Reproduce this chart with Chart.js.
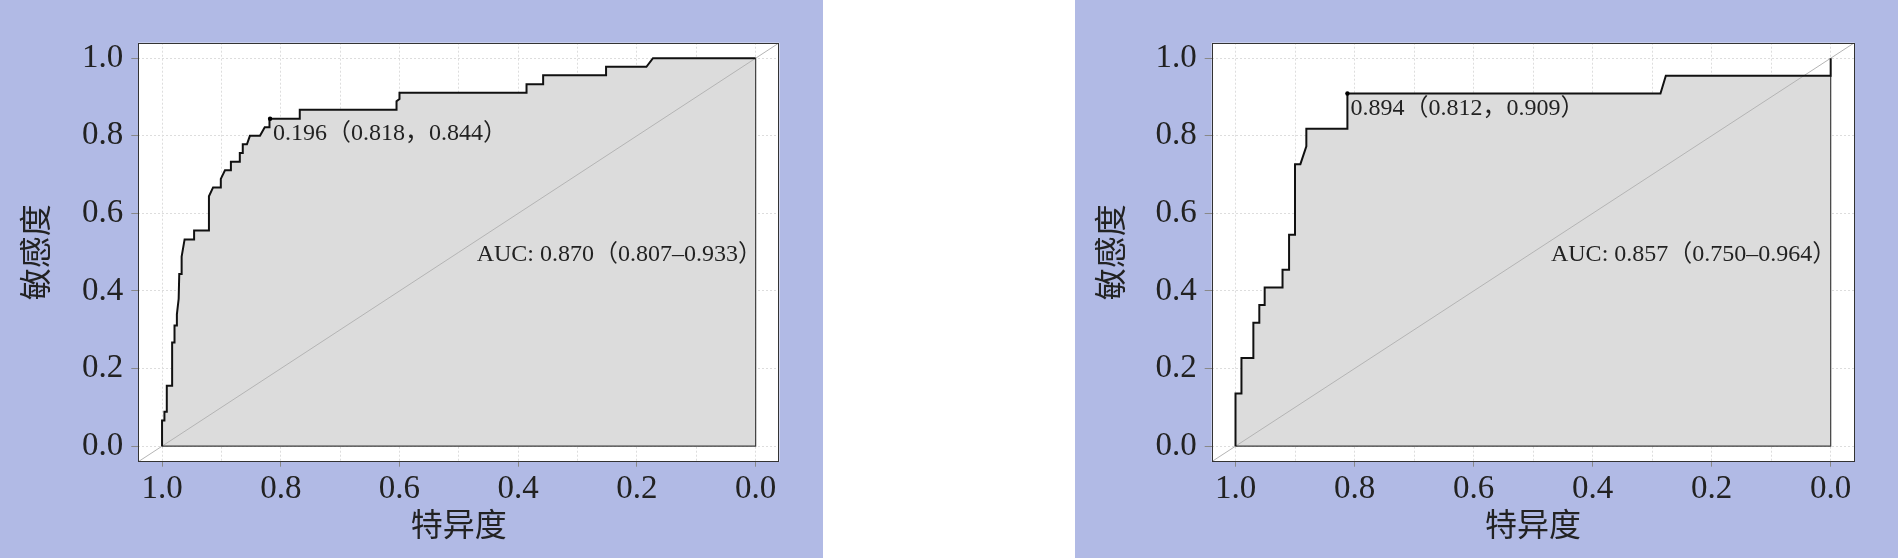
<!DOCTYPE html>
<html><head><meta charset="utf-8">
<script src="https://cdn.jsdelivr.net/npm/chart.js@4.4.0/dist/chart.umd.min.js"></script>
<style>
html,body{margin:0;padding:0;background:#fff;width:1898px;height:560px;overflow:hidden}
.panel{position:absolute;top:0;width:823px;height:558px;background:#b1bae5}
#p1{left:0}#p2{left:1075px}
canvas{display:block}
</style></head><body>
<div class="panel" id="p1"><canvas id="c1" width="823" height="558"></canvas></div>
<div class="panel" id="p2"><canvas id="c2" width="823" height="558"></canvas></div>
<script>
// ---- data ----
const axisMin = -0.04, axisMax = 1.04;
const yTickValues = [0, 0.2, 0.4, 0.6, 0.8, 1.0];
const yTickLabels = ['0.0', '0.2', '0.4', '0.6', '0.8', '1.0'];
const xTickValues = [0, 0.1, 0.2, 0.3, 0.4, 0.5, 0.6, 0.7, 0.8, 0.9, 1.0];
const xTickLabels = ['0.0', '', '0.2', '', '0.4', '', '0.6', '', '0.8', '', '1.0'];
const xTitle = '特异度';
const yTitle = '敏感度';

// left ROC curve (specificity, sensitivity)
const leftSpec = [1.000, 1.000, 0.996, 0.996, 0.992, 0.992, 0.983, 0.983, 0.979, 0.979, 0.975, 0.975, 0.972, 0.971, 0.967, 0.967, 0.962, 0.946, 0.946, 0.921, 0.921, 0.914, 0.901, 0.901, 0.894, 0.884, 0.884, 0.869, 0.869, 0.864, 0.864, 0.857, 0.852, 0.835, 0.827, 0.819, 0.819, 0.768, 0.768, 0.605, 0.605, 0.600, 0.600, 0.386, 0.386, 0.358, 0.358, 0.252, 0.252, 0.184, 0.173, 0.000];
const leftSens = [0.000, 0.066, 0.066, 0.089, 0.089, 0.156, 0.156, 0.267, 0.267, 0.311, 0.311, 0.340, 0.380, 0.444, 0.444, 0.489, 0.533, 0.533, 0.556, 0.556, 0.644, 0.667, 0.667, 0.689, 0.711, 0.711, 0.733, 0.733, 0.756, 0.756, 0.778, 0.778, 0.800, 0.800, 0.822, 0.822, 0.844, 0.844, 0.867, 0.867, 0.889, 0.895, 0.911, 0.911, 0.933, 0.933, 0.956, 0.956, 0.978, 0.978, 1.000, 1.000];
const leftThreshold = { label: '0.196（0.818，0.844）', spec: 0.818, sens: 0.844 };
const leftAuc = 'AUC: 0.870（0.807–0.933）';

// right ROC curve
const rightSpec = [1.000, 1.000, 0.990, 0.990, 0.970, 0.970, 0.960, 0.960, 0.951, 0.951, 0.921, 0.921, 0.910, 0.910, 0.900, 0.900, 0.891, 0.881, 0.881, 0.812, 0.812, 0.286, 0.277, 0.000, 0.000];
const rightSens = [0.000, 0.136, 0.136, 0.227, 0.227, 0.318, 0.318, 0.364, 0.364, 0.409, 0.409, 0.455, 0.455, 0.545, 0.545, 0.727, 0.727, 0.773, 0.818, 0.818, 0.909, 0.909, 0.955, 0.955, 1.000];
const rightThreshold = { label: '0.894（0.812，0.909）', spec: 0.812, sens: 0.909 };
const rightAuc = 'AUC: 0.857（0.750–0.964）';

const aucPos = { spec: 0.47, sens: 0.493 };

// ---- chart builder ----
const SERIF = '"Liberation Serif", "Noto Sans CJK SC", serif';
const CJK = '"Noto Sans CJK SC", sans-serif';

function makeChart(id, spec, sens, thr, auc, geom) {
  const curve = spec.map((s, i) => ({ x: s, y: sens[i] }));
  const last = curve[curve.length - 1], first = curve[0];
  const rimSens = spec.reduce((m, s, i) => (s === last.x ? Math.min(m, sens[i]) : m), 1);
  const rim = [{ x: last.x, y: rimSens }, { x: last.x, y: 0 }, { x: first.x, y: 0 }];
  const diag = [{ x: axisMax, y: axisMin }, { x: axisMin, y: axisMax }];

  const boxPlugin = {
    id: 'box' + id,
    beforeDraw(chart) {
      const a = chart.chartArea, c = chart.ctx;
      c.save(); c.fillStyle = '#ffffff';
      c.fillRect(a.left, a.top, a.right - a.left, a.bottom - a.top);
      c.restore();
    },
    afterDatasetsDraw(chart) {
      const a = chart.chartArea, c = chart.ctx;
      const xs = chart.scales.x, ys = chart.scales.y;
      c.save();
      c.strokeStyle = '#333333'; c.lineWidth = 1;
      c.strokeRect(Math.round(a.left) + 0.5, Math.round(a.top) + 0.5,
        Math.round(a.right - a.left) - 1, Math.round(a.bottom - a.top) - 1);
      c.fillStyle = '#222222';
      c.font = '24px ' + SERIF;
      c.textAlign = 'left'; c.textBaseline = 'middle';
      c.fillText(thr.label, xs.getPixelForValue(thr.spec) + 3, ys.getPixelForValue(thr.sens) + 15);
      c.fillText(auc, xs.getPixelForValue(aucPos.spec), ys.getPixelForValue(aucPos.sens));
      c.restore();
    }
  };

  return new Chart(document.getElementById(id), {
    type: 'line',
    data: {
      datasets: [
        { data: curve, fill: 'origin', backgroundColor: '#dcdcdc', borderWidth: 0, pointRadius: 0, order: 6 },
        { data: diag, borderColor: '#b4b4b4', borderWidth: 1, pointRadius: 0, fill: false, order: 5 },
        { data: rim, borderColor: '#3c3c3c', borderWidth: 1.2, pointRadius: 0, fill: false, order: 4 },
        { data: curve, borderColor: '#111111', borderWidth: 2, pointRadius: 0, fill: false, order: 3 },
        { data: [{ x: thr.spec, y: thr.sens }], showLine: false, pointRadius: 2.2, pointBackgroundColor: '#000', pointBorderWidth: 0, order: 1 }
      ]
    },
    options: {
      responsive: false, animation: false, devicePixelRatio: 1,
      elements: { line: { tension: 0 } },
      layout: { padding: { left: 0, top: geom.top, right: geom.right, bottom: 0 } },
      plugins: { legend: { display: false }, tooltip: { enabled: false } },
      scales: {
        x: {
          type: 'linear', reverse: true, min: axisMin, max: axisMax,
          afterBuildTicks: s => { s.ticks = xTickValues.map(v => ({ value: v })); },
          afterFit: s => { s.height = geom.xHeight; },
          ticks: {
            autoSkip: false, maxRotation: 0, padding: 3, color: '#222222',
            font: { family: SERIF, size: 33 },
            callback: (v, i) => xTickLabels[i]
          },
          grid: {
            color: '#dddddd', lineWidth: 1, tickLength: 5,
            tickColor: ctx => (xTickLabels[ctx.index] ? '#888888' : 'rgba(0,0,0,0)')
          },
          border: { display: false, dash: [2, 2] },
          title: { display: true, text: xTitle, color: '#222222', font: { family: CJK, size: 32 }, padding: { top: 0, bottom: 14.8 } }
        },
        y: {
          type: 'linear', min: axisMin, max: axisMax,
          afterBuildTicks: s => { s.ticks = yTickValues.map(v => ({ value: v })); },
          afterFit: s => { s.width = geom.yWidth; },
          ticks: {
            autoSkip: false, padding: 8, color: '#222222',
            font: { family: SERIF, size: 33 },
            callback: (v, i) => yTickLabels[i]
          },
          grid: { color: '#dddddd', lineWidth: 1, tickLength: 7, tickColor: '#888888' },
          border: { display: false, dash: [2, 2] },
          title: { display: true, text: yTitle, color: '#222222', font: { family: CJK, size: 32 }, padding: { top: 15.8, bottom: 0 } }
        }
      }
    },
    plugins: [boxPlugin]
  });
}

makeChart('c1', leftSpec, leftSens, leftThreshold, leftAuc, { top: 42.7, right: 823 - 779.4, yWidth: 138.3, xHeight: 558 - 461.7 });
makeChart('c2', rightSpec, rightSens, rightThreshold, rightAuc, { top: 42.7, right: 823 - 779.5, yWidth: 136.7, xHeight: 558 - 461.7 });
</script>
</body></html>
